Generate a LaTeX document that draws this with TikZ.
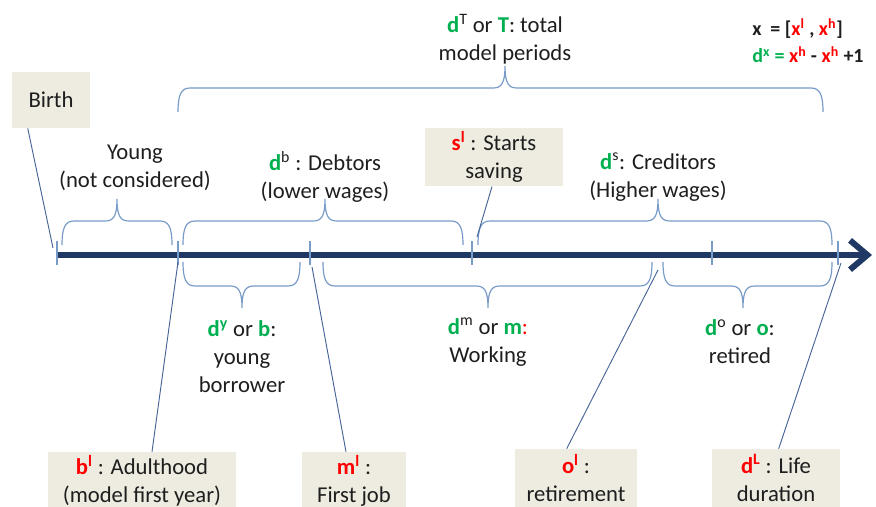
\documentclass[tikz,border=0pt]{standalone}
\usepackage{fontspec}
\setmainfont{Carlito}
\usetikzlibrary{arrows.meta}
\definecolor{dgreen}{RGB}{0,176,80}
\definecolor{navy}{RGB}{31,56,100}
\definecolor{bracec}{RGB}{120,155,200}
\definecolor{linkc}{RGB}{70,100,150}
\definecolor{boxfill}{RGB}{238,236,225}
\definecolor{txt}{RGB}{30,30,30}
\newcommand{\gterm}[1]{\textcolor{dgreen}{\textbf{#1}}}
\newcommand{\rterm}[1]{\textcolor{red}{\textbf{#1}}}
% brace: x1, x2, tip x, end y, direction (-1 up, 1 down)
\newcommand{\tlbrace}[5]{%
  \draw[curly] (#1,#4) .. controls (#1,{#4+(#5)*17}) and ({#1+3},{#4+(#5)*24}) .. ({#1+12},{#4+(#5)*24})
    -- ({#3-12},{#4+(#5)*24}) .. controls ({#3-4},{#4+(#5)*24}) and (#3,{#4+(#5)*28}) .. (#3,{#4+(#5)*46})
    .. controls (#3,{#4+(#5)*28}) and ({#3+4},{#4+(#5)*24}) .. ({#3+12},{#4+(#5)*24})
    -- ({#2-12},{#4+(#5)*24}) .. controls ({#2-3},{#4+(#5)*24}) and (#2,{#4+(#5)*17}) .. (#2,#4);}
\begin{document}
\begin{tikzpicture}[x=0.75pt, y=-0.75pt,
  every node/.style={font=\fontsize{17}{21}\selectfont, text=txt, align=center, inner sep=0pt},
  box/.style={fill=boxfill, minimum height=44pt},
  curly/.style={draw=bracec, line width=0.9pt},
  link/.style={draw=linkc, line width=0.7pt},
  tickmark/.style={draw=bracec, line width=0.9pt},
  timeline/.style={draw=navy, line width=4.5pt, -{Straight Barb[length=13pt,width=22pt]}}]
\useasboundingbox (0,0) rectangle (876,507);

% timeline
\coordinate (start) at (57,255);
\coordinate (end) at (872,255);
\draw[timeline] (start) -- (end);
\foreach \x in {57,178,310,472,712,838}
  \draw[tickmark] (\x,241) -- (\x,265);

% braces above
\tlbrace{62}{172}{117}{245}{-1}
\tlbrace{183}{463}{325}{245}{-1}
\tlbrace{478}{832}{658}{245}{-1}
\tlbrace{178}{823}{505}{112}{-1}
% braces below
\tlbrace{183}{300}{242}{262}{1}
\tlbrace{323}{652}{488}{262}{1}
\tlbrace{663}{832}{743}{262}{1}

% periods
\node (young) at (135,168) {Young\\(not considered)};
\node (debt) at (325,177) {\gterm{d}\textsuperscript{b} : Debtors\\(lower wages)};
\node (cred) at (658,177) {\gterm{d}\textsuperscript{s}: Creditors\\(Higher wages)};
\node (total) at (505,39) {\gterm{d}\textsuperscript{T} or \gterm{T}: total\\model periods};
\node (yb) at (242,357) {\gterm{d}\textsuperscript{\gterm{y}} or \gterm{b}:\\young\\borrower};
\node (work) at (488,342) {\gterm{d}\textsuperscript{m} or \gterm{m}\textcolor{red}{:}\\Working};
\node (ret) at (740,342) {\gterm{d}\textsuperscript{o} or \gterm{o}:\\retired};

% notation
\node[anchor=west, align=left, font=\fontsize{15}{20.5}\selectfont\bfseries] (note) at (752,41)
  {x\ \ = [\textcolor{red}{x\textsuperscript{l}} , \textcolor{red}{x\textsuperscript{h}}]\\
   \textcolor{dgreen}{d\textsuperscript{x} =} \textcolor{red}{x\textsuperscript{h}} - \textcolor{red}{x\textsuperscript{h}} +1};

% events
\node[box, minimum width=58.5pt, minimum height=42pt] (birth) at (51,100) {Birth};
\node[box, minimum width=103.5pt] (sl) at (494,157) {\rterm{s}\textsuperscript{\rterm{l}} : Starts\\saving};
\node[box, minimum width=141pt, minimum height=43.5pt] (bl) at (142,481) {\rterm{b}\textsuperscript{\rterm{l}} : Adulthood\\(model first year)};
\node[box, minimum width=78pt, minimum height=43.5pt] (ml) at (354,481) {\rterm{m}\textsuperscript{\rterm{l}} :\\First job};
\node[box, minimum width=92pt, minimum height=43.5pt] (ol) at (576,478) {\rterm{o}\textsuperscript{\rterm{l}} :\\retirement};
\node[box, minimum width=96pt, minimum height=43.5pt] (dl) at (776,478) {\rterm{d}\textsuperscript{\rterm{L}} : Life\\duration};

% links
\coordinate (birthpt) at (53,248);
\coordinate (blpt) at (178,262);
\coordinate (mlpt) at (312,267);
\coordinate (slpt) at (477,237);
\coordinate (olpt) at (658,270);
\coordinate (dlpt) at (841,263);
\draw[link] ([xshift=12pt]birth.south west) -- (birthpt);
\draw[link] ([xshift=7.5pt]bl.north) -- (blpt);
\draw[link] ([xshift=-6pt]ml.north) -- (mlpt);
\draw[link] ([xshift=-1.5pt]sl.south) -- (slpt);
\draw[link] ([xshift=-7pt]ol.north) -- (olpt);
\draw[link] ([xshift=2pt]dl.north) -- (dlpt);

\end{tikzpicture}
\end{document}
